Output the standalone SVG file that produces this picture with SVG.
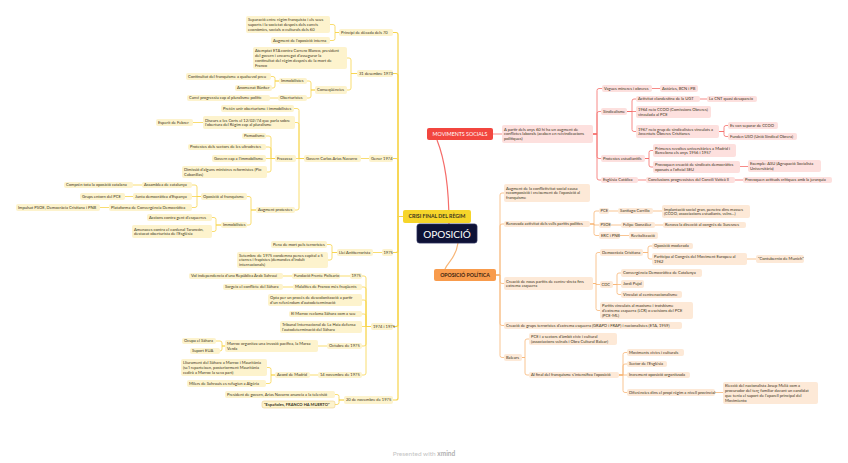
<svg xmlns="http://www.w3.org/2000/svg" width="848" height="463" viewBox="0 0 848 463">
<style>
.y{fill:#fdf3cd}.r{fill:#fde0de}.o{fill:#fde9d7}
text{font-family:Lato,"Open Sans","Liberation Sans",sans-serif;font-size:4.1px;fill:#3a3320}
.cy path{fill:none;stroke:#f7d44c;stroke-width:0.8}
.cr path{fill:none;stroke:#f56d6a;stroke-width:0.8}
.co path{fill:none;stroke:#f8b677;stroke-width:0.8}
.big{font-weight:bold}
</style>
<rect width="848" height="463" fill="#fff"/>
<g id="connectors">
<g class="cy">
<path d="M403 216.5H398V34.5Q398 32.5 396 32.5H393" style="stroke-width:1.2"/>
<path d="M403 216.5H398V75.5Q398 73.5 396 73.5H393" style="stroke-width:1.2"/>
<path d="M403 216.5H398V160.5Q398 158.5 396 158.5H393" style="stroke-width:1.2"/>
<path d="M403 216.5H398V250.5Q398 252.5 396 252.5H393" style="stroke-width:1.2"/>
<path d="M403 216.5H398V324.5Q398 326.5 396 326.5H393" style="stroke-width:1.2"/>
<path d="M403 216.5H398V398Q398 400 396 400H393" style="stroke-width:1.2"/>
<path d="M339 32.5H335V26.5Q335 24.5 333 24.5H330"/>
<path d="M339 32.5H335V38.5Q335 40.5 333 40.5H330"/>
<path d="M357 73.5H351V60Q351 58 349 58H347"/>
<path d="M357 73.5H351V88Q351 90 349 90H347"/>
<path d="M315 90H311V83Q311 81 309 81H307"/>
<path d="M315 90H311V96Q311 98 309 98H307"/>
<path d="M279 81H275V78.5Q275 76.5 273 76.5H271"/>
<path d="M279 81H275V86Q275 88 273 88H272"/>
<path d="M278 98H270"/>
<path d="M369 158.5H361"/>
<path d="M304 158.5H299V110.5Q299 108.5 297 108.5H294"/>
<path d="M304 158.5H299V124.5Q299 122.5 297 122.5H295"/>
<path d="M304 158.5H296"/>
<path d="M304 158.5H299V208Q299 210 297 210H295"/>
<path d="M203 122.5H193"/>
<path d="M275 158.5H271V138Q271 136 269 136H266"/>
<path d="M275 158.5H271V149Q271 147 269 147H266"/>
<path d="M275 158.5H266"/>
<path d="M275 158.5H271V170Q271 172 269 172H267"/>
<path d="M256 210H251V198.5Q251 196.5 249 196.5H247"/>
<path d="M256 210H251V223Q251 225 249 225H247"/>
<path d="M201 196.5H197V187Q197 185 195 185H192"/>
<path d="M201 196.5H192"/>
<path d="M201 196.5H197V205.5Q197 207.5 195 207.5H192"/>
<path d="M142 185H133"/>
<path d="M133 196.5H125"/>
<path d="M109 207.5H100"/>
<path d="M221 225H216V219.5Q216 217.5 214 217.5H212"/>
<path d="M221 225H216V229.5Q216 231.5 214 231.5H212"/>
<path d="M382 252.5H373"/>
<path d="M337 252.5H332V246.5Q332 244.5 330 244.5H327"/>
<path d="M337 252.5H332V258Q332 260 330 260H328"/>
<path d="M371 326.5H366V278Q366 276 364 276H362"/>
<path d="M371 326.5H366V289Q366 287 364 287H362"/>
<path d="M371 326.5H366V302Q366 300 364 300H362"/>
<path d="M371 326.5H366V316Q366 314 364 314H362"/>
<path d="M371 326.5H362"/>
<path d="M371 326.5H366V344Q366 346 364 346H362"/>
<path d="M371 326.5H366V373Q366 375 364 375H362"/>
<path d="M350 276H340"/>
<path d="M292 276H283"/>
<path d="M293 287H283"/>
<path d="M327 346H318"/>
<path d="M225 346H222V343Q222 341 220 341H216"/>
<path d="M225 346H222V349Q222 351 220 351"/>
<path d="M318 375H310"/>
<path d="M275 375H271V369.5Q271 367.5 269 367.5H267"/>
<path d="M275 375H271V381.5Q271 383.5 269 383.5H266"/>
<path d="M344 400H339V396.5Q339 394.5 337 394.5H335"/>
<path d="M344 400H339V402.5Q339 404.5 337 404.5H335"/>
</g>
<g class="cr">
<path d="M437 140C445 160 449 190 449 224" style="stroke-width:1.2"/>
<path d="M493 134H502"/>
<path d="M593 134H597V90.5Q597 88.5 599 88.5H602"/>
<path d="M593 134H597V113.5Q597 111.5 599 111.5H601"/>
<path d="M593 134H597V156.5Q597 158.5 599 158.5H601"/>
<path d="M593 134H597V178Q597 180 599 180H601"/>
<path d="M652 88.5H660"/>
<path d="M627 111.5H632V101Q632 99 634 99H636"/>
<path d="M627 111.5H636"/>
<path d="M627 111.5H632V129.5Q632 131.5 634 131.5H636"/>
<path d="M700 99H707"/>
<path d="M719 131.5H724V127.5Q724 125.5 726 125.5H728"/>
<path d="M719 131.5H724V134.5Q724 136.5 726 136.5H728"/>
<path d="M645 158.5H649V152.5Q649 150.5 651 150.5H653"/>
<path d="M645 158.5H649V165Q649 167 651 167H653"/>
<path d="M740 166.5H748"/>
<path d="M638 180H646"/>
<path d="M735 180H743"/>
</g>
<g class="co">
<path d="M458 243C456 258 448 262 445 269" style="stroke-width:1.2"/>
<path d="M496 275H500V195Q500 193 502 193H504"/>
<path d="M496 275H500V226Q500 224 502 224H504"/>
<path d="M496 275H500V281.5Q500 283.5 502 283.5H504"/>
<path d="M496 275H500V323.5Q500 325.5 502 325.5H504"/>
<path d="M496 275H500V355.5Q500 357.5 502 357.5H504"/>
<path d="M590 224H594V213Q594 211 596 211H599"/>
<path d="M590 224H594V225H599"/>
<path d="M590 224H594V233.5Q594 235.5 596 235.5H599"/>
<path d="M609 211H618"/>
<path d="M653 211H662"/>
<path d="M611 225H621"/>
<path d="M655 225H663"/>
<path d="M620 235.5H629"/>
<path d="M593 283.5H596V254.5Q596 252.5 598 252.5H600"/>
<path d="M593 283.5H596V284.5H600"/>
<path d="M593 283.5H596V308.5Q596 310.5 598 310.5H600"/>
<path d="M643 252.5H648V248Q648 246 650 246H652"/>
<path d="M643 252.5H648V257Q648 259 650 259H652"/>
<path d="M747 259H756"/>
<path d="M613 284.5H617V275Q617 273 619 273H621"/>
<path d="M613 284.5H621"/>
<path d="M613 284.5H617V292.5Q617 294.5 619 294.5H621"/>
<path d="M522 357.5H525V341Q525 339 527 339H529"/>
<path d="M522 357.5H525V373Q525 375 527 375H529"/>
<path d="M619 375H623V354.5Q623 352.5 625 352.5H627"/>
<path d="M619 375H623V366Q623 364 625 364H627"/>
<path d="M619 375H627"/>
<path d="M619 375H623V390.5Q623 392.5 625 392.5H627"/>
<path d="M715 392.5H723"/>
</g>
</g>

<g id="root"><rect x="417" y="224" width="60" height="19" rx="2.5" fill="#0e1236" stroke="#2a2f5a" stroke-width="0.8"/><text x="447" y="237.6" text-anchor="middle" style="font-size:10px;fill:#fff">OPOSICIÓ</text></g>
<g id="crisi"><rect x="403" y="210" width="68" height="13" rx="2" fill="#f6d52a"/><text x="437" y="218.4" text-anchor="middle" class="big" style="font-size:5.2px;fill:#3a3320">CRISI FINAL DEL RÈGIM</text></g>
<g id="mov"><rect x="427" y="128" width="66" height="12" rx="2" fill="#f2463f"/><text x="460" y="135.9" text-anchor="middle" style="font-size:5.3px;fill:#fff">MOVIMENTS SOCIALS</text></g>
<g id="opol"><rect x="434" y="269" width="62" height="12" rx="2" fill="#f89b4c"/><text x="465" y="276.9" text-anchor="middle" class="big" style="font-size:5.2px;fill:#3d2410">OPOSICIÓ POLÍTICA</text></g>

<g id="y-separacio"><rect class="y" x="246" y="16" width="84" height="17" rx="2"/><text x="248" y="21.15">Separació entre règim franquista i els seus</text><text x="248" y="25.95">suports i la societat després dels canvis</text><text x="248" y="30.75">econòmics, socials o culturals dels 60</text></g>
<g id="y-augop"><rect class="y" x="271" y="37" width="59" height="7" rx="2"/><text x="273" y="41.95">Augment de l'oposició interna</text></g>
<g id="y-principi"><rect class="y" x="339" y="29" width="54" height="7" rx="2"/><text x="341" y="33.95">Principi de dècada dels 70</text></g>
<g id="y-atemptat"><rect class="y" x="253" y="47" width="94" height="22" rx="2"/><text x="255" y="52.25">Atemptat ETA contra Carrero Blanco, president</text><text x="255" y="57.05">del govern i encarregat d'assegurar la</text><text x="255" y="61.85">continuïtat del règim després de la mort de</text><text x="255" y="66.65">Franco</text></g>
<g id="y-d73"><rect class="y" x="357" y="70" width="36" height="7" rx="2"/><text x="359" y="74.95">31 desembre 1973</text></g>
<g id="y-conseq"><rect class="y" x="315" y="86" width="32" height="8" rx="2"/><text x="317" y="91.45">Conseqüències</text></g>
<g id="y-immob1"><rect class="y" x="279" y="78" width="28" height="6" rx="2"/><text x="281" y="82.45">Immobilistes</text></g>
<g id="y-obert"><rect class="y" x="278" y="95" width="29" height="6" rx="2"/><text x="280" y="99.45">Oberturistes</text></g>
<g id="y-continuitat"><rect class="y" x="186" y="73" width="85" height="7" rx="2"/><text x="188" y="77.95">Continuïtat del franquisme a qualsevol preu</text></g>
<g id="y-bunker"><rect class="y" x="235" y="85" width="37" height="6" rx="2"/><text x="237" y="89.45">Anomenat Bùnker</text></g>
<g id="y-canvi"><rect class="y" x="187" y="95" width="83" height="6" rx="2"/><text x="189" y="99.45">Canvi progressiu cap al pluralisme polític</text></g>
<g id="y-g74"><rect class="y" x="369" y="155" width="24" height="7" rx="2"/><text x="371" y="159.95">Gener 1974</text></g>
<g id="y-govern"><rect class="y" x="304" y="155" width="57" height="7" rx="2"/><text x="306" y="159.95">Govern Carlos Arias Navarro</text></g>
<g id="y-preten"><rect class="y" x="221" y="105" width="73" height="7" rx="2"/><text x="223" y="109.95">Pretén unir oberturisme i immobilistes</text></g>
<g id="y-discurs"><rect class="y" x="203" y="116" width="92" height="13" rx="2"/><text x="205" y="121.55">Discurs a les Corts el 12/02/74 que parla sobre</text><text x="205" y="126.35">l'obertura del Règim cap al pluralisme</text></g>
<g id="y-esperit"><rect class="y" x="156" y="119" width="37" height="7" rx="2"/><text x="158" y="123.95">Esperit de Febrer</text></g>
<g id="y-fracassa"><rect class="y" x="275" y="155" width="21" height="7" rx="2"/><text x="277" y="159.95">Fracassa</text></g>
<g id="y-pomad"><rect class="y" x="242" y="133" width="24" height="6" rx="2"/><text x="244" y="137.45">Pomadisme</text></g>
<g id="y-prot-ultra"><rect class="y" x="188" y="144" width="78" height="6" rx="2"/><text x="190" y="148.45">Protestes dels sectors de les ultradretes</text></g>
<g id="y-govimmob"><rect class="y" x="212" y="155" width="54" height="7" rx="2"/><text x="214" y="159.95">Govern cap a l'immobilisme</text></g>
<g id="y-dimissio"><rect class="y" x="182" y="166" width="85" height="12" rx="2"/><text x="184" y="171.05">Dimissió d'alguns ministres reformistes (Pío</text><text x="184" y="175.85">Cabanillas)</text></g>
<g id="y-augprot"><rect class="y" x="256" y="207" width="39" height="6" rx="2"/><text x="258" y="211.45">Augment protestes</text></g>
<g id="y-oposfranq"><rect class="y" x="201" y="193" width="46" height="7" rx="2"/><text x="203" y="197.95">Oposició al franquisme</text></g>
<g id="y-immob2"><rect class="y" x="221" y="222" width="26" height="6" rx="2"/><text x="223" y="226.45">Immobilistes</text></g>
<g id="y-assamblea"><rect class="y" x="142" y="182" width="50" height="6" rx="2"/><text x="144" y="186.45">Assamblea de catalunya</text></g>
<g id="y-junta"><rect class="y" x="133" y="193" width="59" height="7" rx="2"/><text x="135" y="197.95">Junta democràtica d'Espanya</text></g>
<g id="y-plataforma"><rect class="y" x="109" y="204" width="83" height="7" rx="2"/><text x="111" y="208.95">Plataforma de Convergència Democràtica</text></g>
<g id="y-compren"><rect class="y" x="64" y="182" width="69" height="6" rx="2"/><text x="66" y="186.45">Comprèn tota la oposició catalana</text></g>
<g id="y-grups"><rect class="y" x="80" y="193" width="45" height="7" rx="2"/><text x="82" y="197.95">Grups entorn del PCE</text></g>
<g id="y-impulsat"><rect class="y" x="16" y="204" width="84" height="7" rx="2"/><text x="18" y="208.95">Impulsat PSOE, Democràcia Cristiana i PNB</text></g>
<g id="y-accions"><rect class="y" x="147" y="214" width="65" height="7" rx="2"/><text x="149" y="218.95">Accions contra gent d'esquerres</text></g>
<g id="y-amenaces"><rect class="y" x="132" y="225" width="80" height="13" rx="2"/><text x="134" y="230.55">Amenaces contra el cardenal Tarancón,</text><text x="134" y="235.35">destacat oberturista de l'Església</text></g>
<g id="y-1975a"><rect class="y" x="382" y="249" width="11" height="7" rx="2"/><text x="383.5" y="253.95">1975</text></g>
<g id="y-llei"><rect class="y" x="337" y="249" width="36" height="7" rx="2"/><text x="339" y="253.95">Llei Antiterrorista</text></g>
<g id="y-pena"><rect class="y" x="271" y="241" width="56" height="7" rx="2"/><text x="273" y="245.95">Pena de mort pels terroristes</text></g>
<g id="y-setembre"><rect class="y" x="237" y="252" width="91" height="16" rx="2"/><text x="239" y="256.65">Setembre de 1975 condemna penes capital a 5</text><text x="239" y="261.45">etarres i frapistes (demandes d'indult</text><text x="239" y="266.25">internacionals)</text></g>
<g id="y-7475"><rect class="y" x="371" y="323" width="22" height="7" rx="2"/><text x="373" y="327.95">1974 i 1975</text></g>
<g id="y-1975b"><rect class="y" x="350" y="273" width="12" height="6" rx="2"/><text x="351.5" y="277.45">1975</text></g>
<g id="y-polisario"><rect class="y" x="292" y="273" width="48" height="6" rx="2"/><text x="294" y="277.45">Fundació Frente Polisario</text></g>
<g id="y-vol"><rect class="y" x="189" y="273" width="94" height="6" rx="2"/><text x="191" y="277.45">Vol independencia d'una República Àrab Sahraui</text></g>
<g id="y-malalties"><rect class="y" x="293" y="284" width="69" height="6" rx="2"/><text x="295" y="288.45">Malalties de Franco més freqüents</text></g>
<g id="y-sorgeix"><rect class="y" x="223" y="284" width="60" height="6" rx="2"/><text x="225" y="288.45">Sorgeix el conflicte del Sàhara</text></g>
<g id="y-opta"><rect class="y" x="268" y="294" width="94" height="12" rx="2"/><text x="270" y="299.05">Opta per un procés de descolonització a partir</text><text x="270" y="303.85">d'un referèndum d'autodeterminació</text></g>
<g id="y-marroc"><rect class="y" x="289" y="311" width="73" height="6" rx="2"/><text x="291" y="315.45">El Marroc reclama Sàhara com a seu</text></g>
<g id="y-tribunal"><rect class="y" x="280" y="321" width="82" height="12" rx="2"/><text x="282" y="326.05">Tribunal Internacional de La Haia defensa</text><text x="282" y="330.85">l'autodeterminació del Sàhara</text></g>
<g id="y-octubre"><rect class="y" x="327" y="343" width="35" height="6" rx="2"/><text x="329" y="347.45">Octubre de 1975</text></g>
<g id="y-marxa"><rect class="y" x="225" y="340" width="93" height="12" rx="2"/><text x="227" y="345.05">Marroc organitza una invasió pacífica, la Marxa</text><text x="227" y="349.85">Verda</text></g>
<g id="y-ocupa"><rect class="y" x="182" y="338" width="34" height="6" rx="2"/><text x="184" y="342.45">Ocupa el Sàhara</text></g>
<g id="y-eua"><rect class="y" x="190" y="348" width="30" height="6" rx="2"/><text x="192" y="352.45">Suport EUA</text></g>
<g id="y-14nov"><rect class="y" x="318" y="372" width="44" height="6" rx="2"/><text x="320" y="376.45">14 novembre de 1975</text></g>
<g id="y-acord"><rect class="y" x="275" y="372" width="35" height="6" rx="2"/><text x="277" y="376.45">Acord de Madrid</text></g>
<g id="y-lliurament"><rect class="y" x="181" y="359" width="86" height="17" rx="2"/><text x="183" y="364.15">Lliurament del Sàhara a Marroc i Mauritània</text><text x="183" y="368.95">(se'l reparteixen, posteriorment Mauritània</text><text x="183" y="373.75">cedirà a Marroc la seva part)</text></g>
<g id="y-milers"><rect class="y" x="187" y="380" width="79" height="7" rx="2"/><text x="189" y="384.95">Milers de Sahrauís es refugien a Algèria</text></g>
<g id="y-20nov"><rect class="y" x="344" y="396" width="49" height="8" rx="2"/><text x="346" y="401.45">20 de novembre de 1975</text></g>
<g id="y-president"><rect class="y" x="225" y="391" width="110" height="7" rx="2"/><text x="227" y="395.95">President de govern, Arias Navarro anuncia a la televisió</text></g>
<g id="y-espanoles"><rect class="y" x="262" y="401" width="73" height="7" rx="2" stroke="#e8c77a" stroke-width="0.5"/><text x="264" y="405.95" class="big">"Españoles, FRANCO HA MUERTO"</text></g>

<g id="r-apartir"><rect class="r" x="502" y="125" width="91" height="18" rx="2"/><text x="504" y="130.65">A partir dels anys 60 hi ha un augment de</text><text x="504" y="135.45">conflictes laborals (acaben en reivindicacions</text><text x="504" y="140.25">polítiques)</text></g>
<g id="r-vagues"><rect class="r" x="602" y="85" width="50" height="7" rx="2"/><text x="604" y="89.95">Vagues mineres i obreres</text></g>
<g id="r-asturies"><rect class="r" x="660" y="85" width="38" height="7" rx="2"/><text x="662" y="89.95">Astúries, BCN i PB</text></g>
<g id="r-sindic"><rect class="r" x="601" y="108" width="26" height="7" rx="2"/><text x="603" y="112.95">Sindicalisme</text></g>
<g id="r-ugt"><rect class="r" x="636" y="96" width="64" height="6" rx="2"/><text x="638" y="100.45">Activitat clandestina de la UGT</text></g>
<g id="r-cnt"><rect class="r" x="707" y="96" width="50" height="6" rx="2"/><text x="709" y="100.45">La CNT quasi desapareix</text></g>
<g id="r-1964"><rect class="r" x="636" y="106" width="75" height="12" rx="2"/><text x="638" y="111.05">1964 neix CCOO (Comissions Obreres)</text><text x="638" y="115.85">vinculada al PCE</text></g>
<g id="r-1967"><rect class="r" x="636" y="125" width="83" height="13" rx="2"/><text x="638" y="130.55">1967 neix grup de sindicalistes vinculats a</text><text x="638" y="135.35">Joventuts Obreres Cristianes</text></g>
<g id="r-separar"><rect class="r" x="728" y="122" width="50" height="7" rx="2"/><text x="730" y="126.95">Es van separar de CCOO</text></g>
<g id="r-uso"><rect class="r" x="728" y="133" width="69" height="7" rx="2"/><text x="730" y="137.95">Funden USO (Unió Sindical Obrera)</text></g>
<g id="r-estud"><rect class="r" x="601" y="155" width="44" height="7" rx="2"/><text x="603" y="159.95">Protestes estudiantils</text></g>
<g id="r-primeres"><rect class="r" x="653" y="144" width="83" height="13" rx="2"/><text x="655" y="149.55">Primeres revoltes universitàries a Madrid i</text><text x="655" y="154.35">Barcelona els anys 1956 i 1957</text></g>
<g id="r-provoquen"><rect class="r" x="653" y="161" width="87" height="12" rx="2"/><text x="655" y="166.05">Provoquen creació de sindicats democràtics</text><text x="655" y="170.85">oposats a l'oficial SEU</text></g>
<g id="r-asu"><rect class="r" x="748" y="160" width="73" height="12" rx="2"/><text x="750" y="165.05">Exemple: ASU (Agrupació Socialista</text><text x="750" y="169.85">Universitària)</text></g>
<g id="r-esglesia"><rect class="r" x="601" y="177" width="37" height="6" rx="2"/><text x="603" y="181.45">Església Catòlica</text></g>
<g id="r-concili"><rect class="r" x="646" y="177" width="89" height="6" rx="2"/><text x="648" y="181.45">Conclusions progressistes del Concili Vaticà II</text></g>
<g id="r-actituds"><rect class="r" x="743" y="177" width="89" height="6" rx="2"/><text x="745" y="181.45">Provoquen actituds crítiques amb la jerarquia</text></g>

<g id="o-augment"><rect class="o" x="504" y="184" width="86" height="18" rx="2"/><text x="506" y="189.65">Augment de la conflictivitat social causa</text><text x="506" y="194.45">recomposició i creixement de l'oposició al</text><text x="506" y="199.25">franquisme</text></g>
<g id="o-renovada"><rect class="o" x="504" y="221" width="86" height="6" rx="2"/><text x="506" y="225.45">Renovada activitat dels vells partits polítics</text></g>
<g id="o-nous"><rect class="o" x="504" y="277" width="89" height="13" rx="2"/><text x="506" y="282.55">Creació de nous partits de centre-dreta fins</text><text x="506" y="287.35">extrema esquerra</text></g>
<g id="o-terror"><rect class="o" x="504" y="322" width="178" height="7" rx="2"/><text x="506" y="326.95">Creació de grups terroristes d'extrema esquerra (GRAPO i FRAP) i nacionalistes (ETA, 1959)</text></g>
<g id="o-balears"><rect class="o" x="504" y="354" width="18" height="7" rx="2"/><text x="506" y="358.95">Balears</text></g>
<g id="o-pce"><rect class="o" x="599" y="208" width="10" height="6" rx="2"/><text x="600.5" y="212.45">PCE</text></g>
<g id="o-carrillo"><rect class="o" x="618" y="208" width="35" height="6" rx="2"/><text x="620" y="212.45">Santiago Carrillo</text></g>
<g id="o-implant"><rect class="o" x="662" y="205" width="88" height="13" rx="2"/><text x="664" y="210.55">Implantació social gran, penetra dins masses</text><text x="664" y="215.35">(CCOO, associacions estudiants, veïns...)</text></g>
<g id="o-psoe"><rect class="o" x="599" y="222" width="12" height="6" rx="2"/><text x="600.5" y="226.45">PSOE</text></g>
<g id="o-felipe"><rect class="o" x="621" y="222" width="34" height="6" rx="2"/><text x="623" y="226.45">Felipe González</text></g>
<g id="o-suresnes"><rect class="o" x="663" y="222" width="83" height="6" rx="2"/><text x="665" y="226.45">Renova la direcció al congrés de Suresnes</text></g>
<g id="o-erc"><rect class="o" x="599" y="232" width="21" height="7" rx="2"/><text x="601" y="236.95">ERC i PNB</text></g>
<g id="o-revit"><rect class="o" x="629" y="232" width="29" height="7" rx="2"/><text x="631" y="236.95">Revitalització</text></g>
<g id="o-dc"><rect class="o" x="600" y="249" width="43" height="7" rx="2"/><text x="602" y="253.95">Democràcia Cristiana</text></g>
<g id="o-moderada"><rect class="o" x="652" y="243" width="41" height="6" rx="2"/><text x="654" y="247.45">Oposició moderada</text></g>
<g id="o-participa"><rect class="o" x="652" y="253" width="95" height="12" rx="2"/><text x="654" y="258.05">Participa al Congrés del Moviment Europeu al</text><text x="654" y="262.85">1962</text></g>
<g id="o-munich"><rect class="o" x="756" y="255" width="48" height="8" rx="2"/><text x="758" y="260.45">"Contubernio de Munich"</text></g>
<g id="o-cdc"><rect class="o" x="600" y="281" width="13" height="7" rx="2"/><text x="601.5" y="285.95">CDC</text></g>
<g id="o-convergencia"><rect class="o" x="621" y="269" width="81" height="8" rx="2"/><text x="623" y="274.45">Convergència Democràtica de Catalunya</text></g>
<g id="o-pujol"><rect class="o" x="621" y="280" width="23" height="8" rx="2"/><text x="623" y="285.45">Jordi Pujol</text></g>
<g id="o-vinculat"><rect class="o" x="621" y="291" width="61" height="7" rx="2"/><text x="623" y="295.95">Vinculat al centrenacionalisme</text></g>
<g id="o-partits"><rect class="o" x="600" y="302" width="93" height="17" rx="2"/><text x="602" y="307.15">Partits vinculats al maoisme i trotskisme</text><text x="602" y="311.95">d'extrema esquerra (LCR) o escisions del PCE</text><text x="602" y="316.75">(PCE-ML)</text></g>
<g id="o-pcei"><rect class="o" x="529" y="333" width="88" height="12" rx="2"/><text x="531" y="338.05">PCE i a sectors d'àmbit cívic i cultural</text><text x="531" y="342.85">(associacions veïnals i Obra Cultural Balear)</text></g>
<g id="o-alfinal"><rect class="o" x="529" y="372" width="90" height="6" rx="2"/><text x="531" y="376.45">Al final del franquisme s'intensifica l'oposició</text></g>
<g id="o-civics"><rect class="o" x="627" y="349" width="57" height="7" rx="2"/><text x="629" y="353.95">Moviments cívics i culturals</text></g>
<g id="o-sector"><rect class="o" x="627" y="361" width="40" height="6" rx="2"/><text x="629" y="365.45">Sector de l'Església</text></g>
<g id="o-increment"><rect class="o" x="627" y="372" width="63" height="6" rx="2"/><text x="629" y="376.45">Increment oposició organitzada</text></g>
<g id="o-diferencies"><rect class="o" x="627" y="389" width="88" height="7" rx="2"/><text x="629" y="393.95">Diferències dins el propi règim a nivell provincial</text></g>
<g id="o-eleccio"><rect class="o" x="723" y="382" width="95" height="22" rx="2"/><text x="725" y="387.25">Elecció del nacionalista Josep Melià com a</text><text x="725" y="392.05">procurador del terç familiar davant un candidat</text><text x="725" y="396.85">que tenia el suport de l'aparell principal del</text><text x="725" y="401.65">Movimiento</text></g>

<g id="footer"><text x="424" y="456" text-anchor="middle" style="font-size:6.5px;fill:#c4c4c4">Presented with <tspan style="font-weight:bold;fill:#b0b0b0">xmind</tspan></text></g>
</svg>
